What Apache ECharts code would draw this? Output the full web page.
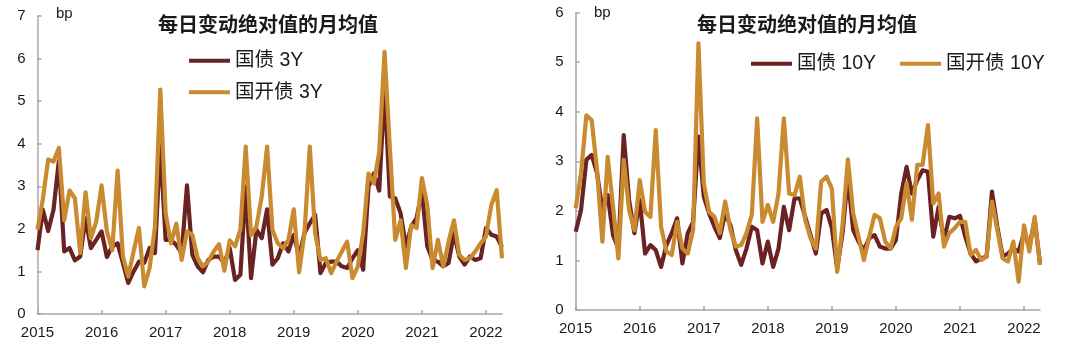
<!DOCTYPE html>
<html>
<head>
<meta charset="utf-8">
<script src="https://cdn.jsdelivr.net/npm/echarts@6/dist/echarts.min.js"></script>
<style>
  html, body { margin: 0; padding: 0; background: #fff; }
  #chart { width: 1080px; height: 345px; }
</style>
</head>
<body>
<div id="chart"></div>
<script>
// Year tick labels; months run Jan 2015 .. Apr 2022 (88 points)
const years = ['2015', '2016', '2017', '2018', '2019', '2020', '2021', '2022'];
const lastYearMonths = 4;

// Monthly average of absolute daily change, bp — 3Y
const cgb3y = [1.50, 2.45, 1.95, 2.45, 3.60, 1.47, 1.55, 1.26, 1.35, 2.25, 1.55, 1.74,
  1.94, 1.34, 1.59, 1.66, 1.20, 0.73, 1.00, 1.23, 1.20, 1.55, 1.43, 3.97,
  1.74, 1.74, 1.62, 1.43, 3.02, 1.39, 1.12, 0.98, 1.27, 1.35, 1.35, 1.20,
  1.55, 0.80, 0.92, 2.99, 0.84, 1.98, 1.78, 2.46, 1.16, 1.31, 1.66, 1.47,
  1.86, 1.35, 1.90, 2.13, 2.33, 0.96, 1.20, 1.23, 1.23, 1.12, 1.08, 1.31,
  1.50, 1.04, 2.99, 3.30, 2.90, 5.30, 2.76, 2.72, 2.37, 1.59, 2.05, 2.25,
  2.88, 1.59, 1.27, 1.23, 1.12, 1.20, 1.90, 1.35, 1.16, 1.35, 1.27, 1.31,
  2.02, 1.86, 1.82, 1.57];
const cdb3y = [1.98, 2.70, 3.63, 3.58, 3.90, 2.20, 2.90, 2.72, 1.43, 2.86, 1.78, 2.17,
  3.02, 1.94, 1.50, 3.37, 1.35, 0.88, 1.47, 2.02, 0.65, 1.08, 2.05, 5.27,
  2.37, 1.66, 2.12, 1.27, 1.94, 1.86, 1.31, 1.12, 1.23, 1.47, 1.64, 1.02,
  1.73, 1.59, 1.98, 3.93, 1.86, 2.05, 2.76, 3.93, 1.98, 1.66, 1.55, 1.74,
  2.46, 0.98, 1.90, 3.93, 1.90, 1.27, 1.31, 0.96, 1.23, 1.47, 1.70, 0.84,
  1.12, 1.90, 3.30, 3.07, 3.81, 6.16, 3.89, 1.74, 2.20, 1.08, 2.09, 2.02,
  3.19, 2.56, 1.08, 1.74, 1.12, 1.70, 2.20, 1.39, 1.27, 1.31, 1.47, 1.66,
  1.82, 2.56, 2.91, 1.31];

// Monthly average of absolute daily change, bp — 10Y
const cgb10y = [1.58, 2.02, 3.03, 3.13, 2.76, 2.02, 2.32, 1.51, 1.24, 3.53, 2.22, 1.55,
  2.22, 1.14, 1.31, 1.21, 0.87, 1.31, 1.55, 1.85, 0.94, 1.55, 1.78, 3.50,
  2.29, 1.95, 1.68, 1.45, 1.95, 1.71, 1.21, 0.91, 1.24, 1.68, 1.61, 0.94,
  1.38, 0.87, 1.24, 2.08, 1.61, 2.25, 2.25, 1.88, 1.51, 1.14, 1.95, 2.02,
  1.65, 0.84, 1.55, 2.69, 1.61, 1.38, 1.21, 1.45, 1.51, 1.28, 1.24, 1.24,
  1.41, 2.35, 2.89, 2.35, 2.62, 2.82, 2.79, 1.48, 2.08, 1.41, 1.88, 1.85,
  1.90, 1.48, 1.14, 0.98, 1.04, 1.08, 2.39, 1.68, 1.08, 1.14, 1.24, 1.18,
  1.55, 1.28, 1.82, 0.94];
const cdb10y = [2.05, 2.76, 3.93, 3.83, 2.82, 1.38, 3.09, 2.08, 1.04, 3.03, 2.02, 1.61,
  2.62, 1.98, 1.88, 3.63, 1.68, 1.18, 1.11, 1.78, 1.24, 1.14, 1.61, 5.38,
  2.56, 1.98, 1.88, 1.55, 2.19, 1.61, 1.28, 1.31, 1.55, 1.92, 3.87, 1.78,
  2.12, 1.78, 2.35, 3.87, 2.35, 2.32, 2.69, 1.82, 1.45, 1.24, 2.59, 2.69,
  2.45, 0.77, 1.71, 3.04, 1.95, 1.48, 1.01, 1.48, 1.92, 1.85, 1.38, 1.24,
  1.68, 1.85, 2.56, 1.82, 2.93, 2.93, 3.73, 2.15, 2.35, 1.28, 1.55, 1.65,
  1.78, 1.78, 1.11, 1.21, 1.01, 1.08, 2.19, 1.61, 1.04, 0.98, 1.38, 0.57,
  1.71, 1.18, 1.88, 0.91];

const seriesNames = ['国债 3Y', '国开债 3Y', '国债 10Y', '国开债 10Y'];
const chartTitle = '每日变动绝对值的月均值';
const unitLabel = 'bp';

// Month categories built from the year list
const months = [];
years.forEach(function (y, k) {
  const n = k === years.length - 1 ? lastYearMonths : 12;
  for (let m = 1; m <= n; m++) months.push(y + '-' + (m < 10 ? '0' + m : m));
});

const DARK = '#6a2222';
const GOLD = '#c98a30';
const AXIS = '#a6a6a6';
const TEXT = '#1a1a1a';
const FONT = "'Liberation Sans', 'Noto Sans CJK SC', sans-serif";

function xAxisOf(gridIndex) {
  return {
    type: 'category', gridIndex: gridIndex, data: months, boundaryGap: false,
    axisLine: { lineStyle: { color: AXIS, width: 1.5 } },
    axisTick: { inside: true, length: 4, lineStyle: { color: AXIS, width: 1.5 },
      interval: function (i) { return i % 12 === 0; } },
    axisLabel: { interval: function (i) { return i % 12 === 0; },
      formatter: function (v) { return v.slice(0, 4); },
      color: TEXT, fontSize: 15, fontFamily: FONT, margin: 11 },
    splitLine: { show: false }
  };
}
function yAxisOf(gridIndex, max) {
  return {
    type: 'value', gridIndex: gridIndex, min: 0, max: max, interval: 1,
    axisLine: { show: true, lineStyle: { color: AXIS, width: 1.5 } },
    axisTick: { show: true, inside: true, length: 4, lineStyle: { color: AXIS, width: 1.5 } },
    axisLabel: { color: TEXT, fontSize: 15, fontFamily: FONT, margin: 12 },
    splitLine: { show: false }
  };
}
function lineOf(name, data, color, idx) {
  return {
    name: name, type: 'line', data: data, xAxisIndex: idx, yAxisIndex: idx,
    showSymbol: false, symbol: 'none',
    lineStyle: { color: color, width: 4.2, join: 'round' },
    itemStyle: { color: color }
  };
}

const chart = echarts.init(document.getElementById('chart'), null, { renderer: 'canvas' });
chart.setOption({
  animation: false,
  backgroundColor: '#ffffff',
  title: [
    { text: chartTitle, left: 158, top: 16, padding: 0,
      textStyle: { fontSize: 20, fontWeight: 'bold', color: TEXT, fontFamily: FONT } },
    { text: chartTitle, left: 697, top: 16, padding: 0,
      textStyle: { fontSize: 20, fontWeight: 'bold', color: TEXT, fontFamily: FONT } },
    { text: unitLabel, left: 56, top: 6, padding: 0,
      textStyle: { fontSize: 15, fontWeight: 'normal', color: TEXT, fontFamily: FONT } },
    { text: unitLabel, left: 594, top: 5, padding: 0,
      textStyle: { fontSize: 15, fontWeight: 'normal', color: TEXT, fontFamily: FONT } }
  ],
  legend: [
    { data: [seriesNames[0], seriesNames[1]], orient: 'vertical', left: 189, top: 51,
      padding: 0, itemGap: 12, itemWidth: 41, itemHeight: 4, icon: 'rect',
      textStyle: { fontSize: 19.5, color: TEXT, fontFamily: FONT } },
    { data: [seriesNames[2], seriesNames[3]], orient: 'horizontal', left: 751, top: 54,
      padding: 0, itemGap: 24, itemWidth: 41, itemHeight: 4, icon: 'rect',
      textStyle: { fontSize: 19.5, color: TEXT, fontFamily: FONT } }
  ],
  grid: [
    { left: 37.5, top: 16, width: 464.5, height: 298 },
    { left: 575.7, top: 12.7, width: 464.3, height: 297.3 }
  ],
  xAxis: [xAxisOf(0), xAxisOf(1)],
  yAxis: [yAxisOf(0, 7), yAxisOf(1, 6)],
  series: [
    lineOf(seriesNames[0], cgb3y, DARK, 0),
    lineOf(seriesNames[1], cdb3y, GOLD, 0),
    lineOf(seriesNames[2], cgb10y, DARK, 1),
    lineOf(seriesNames[3], cdb10y, GOLD, 1)
  ]
});
</script>
</body>
</html>
